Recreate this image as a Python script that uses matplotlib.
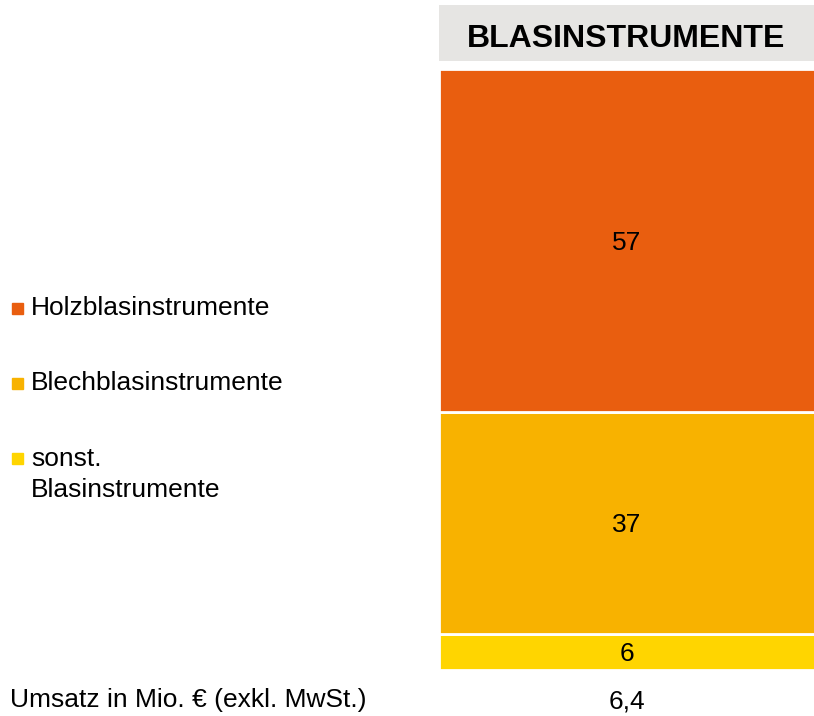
import matplotlib.pyplot as plt
from matplotlib.patches import Rectangle

plt.rcParams['font.family'] = ['Liberation Sans', 'DejaVu Sans']

# Daten
kategorien = ["Holzblasinstrumente", "Blechblasinstrumente", "sonst.\nBlasinstrumente"]
anteile = [57, 37, 6]
farben = ["#E95E0F", "#F8B200", "#FFD500"]
titel = "BLASINSTRUMENTE"
umsatz = "6,4"
umsatz_label = "Umsatz in Mio. \u20ac (exkl. MwSt.)"

W, H = 814, 716
fig = plt.figure(figsize=(W / 100, H / 100), dpi=100)

# Balken-Achse (Pixel -> Figurkoordinaten)
x0, x1 = 439, 815
y_top, y_bot = 69, 670
ax = fig.add_axes([x0 / W, 1 - y_bot / H, (x1 - x0) / W, (y_bot - y_top) / H])

# gestapelt von unten: sonst., Blech, Holz
unten = 0
for wert, farbe in zip(anteile[::-1], farben[::-1]):
    ax.bar(0, wert, bottom=unten, width=1, color=farbe, edgecolor="white", linewidth=2)
    ax.text(0, unten + wert / 2, str(wert), ha="center", va="center_baseline", fontsize=19)
    unten += wert
ax.set_xlim(-0.5, 0.5)
ax.set_ylim(0, sum(anteile))
ax.axis("off")

# Titelkasten
hx = fig.add_axes([439 / W, 1 - 61 / H, (814 - 439) / W, (61 - 5) / H])
hx.set_facecolor("#E6E5E3")
hx.set_xticks([])
hx.set_yticks([])
for s in hx.spines.values():
    s.set_visible(False)
hx.text(0.5, 0.46, titel, ha="center", va="center_baseline", fontsize=23, fontweight="bold",
        transform=hx.transAxes)

# Legende links
leg_y = [308, 383, 458]
for lab, farbe, y in zip(kategorien, farben, leg_y):
    fig.patches.append(Rectangle((12 / W, 1 - (y + 6) / H), 11 / W, 11 / H,
                                 color=farbe, transform=fig.transFigure))
    if "\n" in lab:
        fig.text(31 / W, 1 - (y - 11) / H, lab, ha="left", va="top",
                 fontsize=19, linespacing=1.38)
    else:
        fig.text(31 / W, 1 - y / H, lab, ha="left", va="center", fontsize=19)

# Umsatz
fig.text(10 / W, 1 - 700 / H, umsatz_label, ha="left", va="center", fontsize=19)
fig.text((440 + 814) / 2 / W, 1 - 701 / H, umsatz, ha="center", va="center", fontsize=19)

fig.savefig("out.png", dpi=100)
